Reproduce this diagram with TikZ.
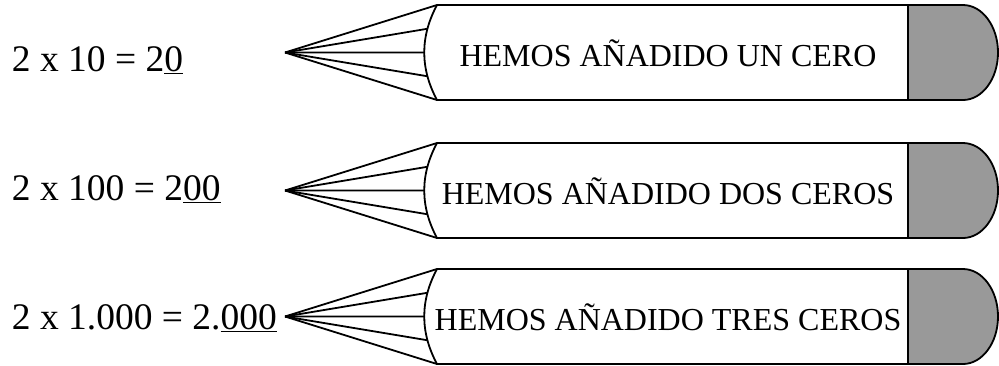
\documentclass[tikz,border=0pt]{standalone}
\usepackage{fontspec}
\setmainfont{Liberation Serif}

\begin{document}
\begin{tikzpicture}[x=1pt,y=-1pt,line width=1.8pt,
    eqn/.style={anchor=base west,inner sep=0pt,font=\fontsize{37.5}{42}\selectfont},
    lab/.style={anchor=base,inner sep=0pt,font=\fontsize{32}{36}\selectfont},
    capfill/.style={fill=black!40}]
\useasboundingbox (0,0) rectangle (999,365);

\foreach \t/\base/\eq/\txt [count=\i] in {
    5/71/{2 x 10 = 2\underline{0}}/{HEMOS AÑADIDO UN CERO},
    143/200/{2 x 100 = 2\underline{00}}/{HEMOS AÑADIDO DOS CEROS},
    269/329/{2 x 1.000 = 2.\underline{000}}/{HEMOS AÑADIDO TRES CEROS}}{
    \coordinate (tip\i) at (285,\t+47.5);
    \coordinate (nw\i) at (437,\t);
    \coordinate (sw\i) at (437,\t+95);
    \coordinate (ne\i) at (908,\t);
    \coordinate (se\i) at (908,\t+95);

    \fill[capfill] (ne\i) -- (963,\t) arc[start angle=-90,end angle=90,x radius=35,y radius=47.5] -- (se\i) -- cycle;
    \draw (nw\i) -- (963,\t) arc[start angle=-90,end angle=90,x radius=35,y radius=47.5] -- (sw\i)
        .. controls (420,\t+63.3) and (420,\t+31.7) .. (nw\i)
        coordinate[pos=0.25] (f3\i) coordinate[pos=0.5] (f2\i) coordinate[pos=0.75] (f1\i);
    \draw (ne\i) -- (se\i);

    \draw (tip\i) -- (nw\i);
    \draw (tip\i) -- (f1\i);
    \draw (tip\i) -- (f2\i);
    \draw (tip\i) -- (f3\i);
    \draw (tip\i) -- (sw\i);

    \node[lab] (lab\i) at (668,\t+61) {\txt};
    \node[eqn] (eq\i) at (11,\base) {\eq};
}
\end{tikzpicture}
\end{document}
